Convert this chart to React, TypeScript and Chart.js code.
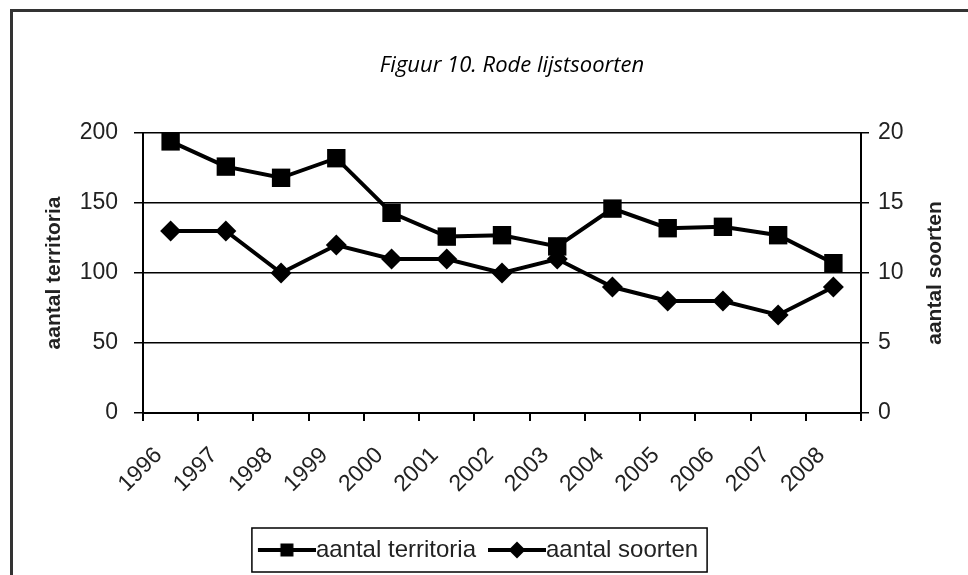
import React, { useEffect, useRef } from "react";
import { Chart, registerables } from "chart.js";

Chart.register(...registerables);

const years = ["1996", "1997", "1998", "1999", "2000", "2001", "2002", "2003", "2004", "2005", "2006", "2007", "2008"];
const territoria = [194, 176, 168, 182, 143, 126, 127, 119, 146, 132, 133, 127, 107];
const soorten = [13, 13, 10, 12, 11, 11, 10, 11, 9, 8, 8, 7, 9];
const leftTicks = [0, 50, 100, 150, 200];
const rightTicks = [0, 5, 10, 15, 20];
const seriesLabels = ["aantal territoria", "aantal soorten"];
const chartTitle = "Figuur 10. Rode lijstsoorten";
const leftAxisTitle = "aantal territoria";
const rightAxisTitle = "aantal soorten";

const FONT = "'Liberation Sans', Arial, sans-serif";
const TEXT = "#222";

function makeIcon(kind: "square" | "diamond"): HTMLCanvasElement {
  const c = document.createElement("canvas");
  c.width = 70;
  c.height = 24;
  const g = c.getContext("2d")!;
  g.strokeStyle = "#000";
  g.fillStyle = "#000";
  g.lineWidth = 4;
  g.beginPath();
  g.moveTo(12, 12);
  g.lineTo(70, 12);
  g.stroke();
  const cx = 41;
  if (kind === "square") {
    g.fillRect(cx - 6.5, 12 - 6.5, 13, 13);
  } else {
    g.beginPath();
    g.moveTo(cx, 12 - 8.5);
    g.lineTo(cx + 8.5, 12);
    g.lineTo(cx, 12 + 8.5);
    g.lineTo(cx - 8.5, 12);
    g.closePath();
    g.fill();
  }
  return c;
}

export default function App() {
  const ref = useRef<HTMLCanvasElement | null>(null);

  useEffect(() => {
    if (!ref.current) return;
    const icons = [makeIcon("square"), makeIcon("diamond")];

    const decor = {
      id: "decor",
      afterDraw(chart: any) {
        const { ctx, chartArea } = chart;
        ctx.save();
        // chart title
        ctx.fillStyle = "#000";
        ctx.font = "italic 22px 'Open Sans', 'DejaVu Sans', sans-serif";
        ctx.textAlign = "center";
        ctx.textBaseline = "middle";
        ctx.fillText(chartTitle, (chartArea.left + chartArea.right) / 2 + 10, 66);
        // right axis title, reading bottom to top
        ctx.font = `bold 21px ${FONT}`;
        ctx.fillStyle = TEXT;
        ctx.translate(chart.scales.y1.right - 21, (chartArea.top + chartArea.bottom) / 2);
        ctx.rotate(-Math.PI / 2);
        ctx.fillText(rightAxisTitle, 0, 0);
        ctx.restore();
        // legend frame
        const boxes = chart.legend?.legendHitBoxes || [];
        if (boxes.length) {
          const l = Math.min(...boxes.map((b: any) => b.left)) - 6;
          const r = Math.max(...boxes.map((b: any) => b.left + b.width)) + 9;
          const cy = boxes[0].top + boxes[0].height / 2;
          ctx.save();
          ctx.strokeStyle = "#000";
          ctx.lineWidth = 1.5;
          ctx.strokeRect(l, cy - 22, r - l, 44);
          ctx.restore();
        }
      },
    };

    const chart = new Chart(ref.current, {
      type: "line",
      data: {
        labels: years,
        datasets: [
          {
            label: seriesLabels[0],
            data: territoria,
            yAxisID: "y",
            borderColor: "#000",
            backgroundColor: "#000",
            borderWidth: 4,
            pointStyle: "rect",
            pointRadius: 13,
            pointBackgroundColor: "#000",
            pointBorderColor: "#000",
            pointBorderWidth: 0,
            tension: 0,
          },
          {
            label: seriesLabels[1],
            data: soorten,
            yAxisID: "y1",
            borderColor: "#000",
            backgroundColor: "#000",
            borderWidth: 4,
            pointStyle: "rectRot",
            pointRadius: 10.5,
            pointBackgroundColor: "#000",
            pointBorderColor: "#000",
            pointBorderWidth: 0,
            tension: 0,
          },
        ],
      },
      options: {
        animation: false,
        responsive: false,
        events: [],
        layout: { padding: { top: 133, right: 12, bottom: 3, left: 0 } },
        plugins: {
          title: { display: false },
          tooltip: { enabled: false },
          legend: {
            display: true,
            position: "bottom",
            labels: {
              usePointStyle: true,
              pointStyleWidth: 46,
              padding: 12,
              color: TEXT,
              font: { family: FONT, size: 24 },
              generateLabels: (c: any) => {
                const items = (Chart.defaults.plugins.legend.labels as any).generateLabels(c);
                return items.map((it: any, i: number) => ({ ...it, pointStyle: icons[i] }));
              },
            },
          },
        },
        scales: {
          x: {
            type: "category",
            offset: true,
            grid: {
              offset: true,
              drawOnChartArea: false,
              drawTicks: true,
              tickLength: 8,
              color: "#000",
              lineWidth: 2,
            },
            border: { display: true, color: "#000", width: 2 },
            ticks: {
              autoSkip: false,
              minRotation: 45,
              maxRotation: 45,
              padding: 21,
              labelOffset: -12,
              color: TEXT,
              font: { family: FONT, size: 23 },
            },
            afterFit: (s: any) => {
              s.height = 113;
            },
          },
          y: {
            position: "left",
            min: leftTicks[0],
            max: leftTicks[leftTicks.length - 1],
            ticks: {
              stepSize: leftTicks[1] - leftTicks[0],
              padding: 16,
              color: TEXT,
              font: { family: FONT, size: 23 },
            },
            grid: { color: "#000", lineWidth: 1.5, tickLength: 9 },
            border: { display: true, color: "#000", width: 2 },
            title: {
              display: true,
              text: leftAxisTitle,
              color: TEXT,
              font: { family: FONT, size: 21, weight: "bold" },
              padding: { top: 42, bottom: 0 },
            },
            afterFit: (s: any) => {
              s.width = 143;
            },
          },
          y1: {
            position: "right",
            min: rightTicks[0],
            max: rightTicks[rightTicks.length - 1],
            ticks: {
              stepSize: rightTicks[1] - rightTicks[0],
              padding: 9,
              color: TEXT,
              font: { family: FONT, size: 23 },
            },
            grid: { drawOnChartArea: false, color: "#000", lineWidth: 1.5, tickLength: 8 },
            border: { display: true, color: "#000", width: 2 },
            afterFit: (s: any) => {
              s.width = 95;
            },
          },
        },
      },
      plugins: [decor],
    } as any);

    return () => chart.destroy();
  }, []);

  return (
    <div
      style={{
        position: "fixed",
        left: 0,
        top: 0,
        width: 968,
        height: 575,
        overflow: "hidden",
        background: "#fff",
      }}
    >
      <div
        style={{
          position: "absolute",
          left: 10,
          top: 9,
          width: 1100,
          height: 700,
          borderLeft: "3px solid #333",
          borderTop: "3px solid #333",
        }}
      />
      <canvas
        ref={ref}
        width={968}
        height={575}
        style={{ position: "absolute", left: 0, top: 0, width: 968, height: 575 }}
      />
    </div>
  );
}
